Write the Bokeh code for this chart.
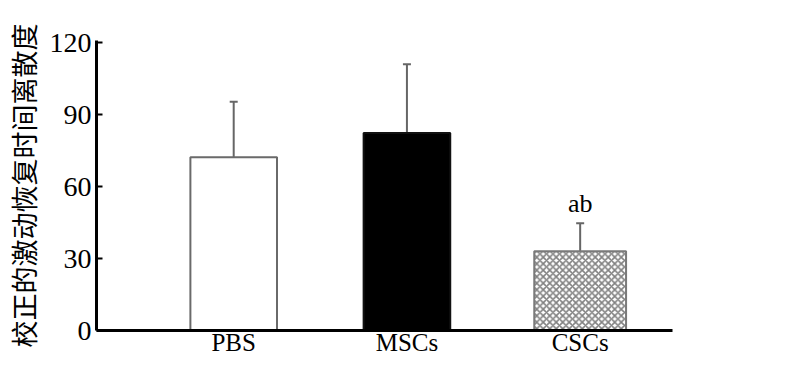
from bokeh.plotting import figure
from bokeh.models import Range1d, FixedTicker, ColumnDataSource, Whisker, TeeHead, LabelSet
from bokeh.embed import file_html
from bokeh.resources import INLINE

categories = ["PBS", "MSCs", "CSCs"]
means = [72.3, 82.4, 33.1]
sds = [23.1, 28.7, 11.7]
sig_labels = ["", "", "ab"]
y_ticks = [0, 30, 60, 90, 120]

xs = [i + 1 for i in range(len(categories))]
src = ColumnDataSource(dict(
    x=xs, top=means,
    upper=[m + s for m, s in zip(means, sds)],
    lab=sig_labels,
))

p = figure(width=784, height=358, output_backend="svg", toolbar_location=None,
           x_range=Range1d(0.208, 3.533), y_range=Range1d(0, 121),
           min_border_left=88, min_border_right=112, min_border_top=40, min_border_bottom=10)
p.outline_line_color = None
p.grid.visible = False
p.background_fill_color = "white"

# bars
p.vbar(x=[xs[0]], top=[means[0]], width=0.5, fill_color="white", line_color="#6a6a6a", line_width=2)
p.vbar(x=[xs[1]], top=[means[1]], width=0.5, fill_color="black", line_color="#111111", line_width=2)
p.vbar(x=[xs[2]], top=[means[2]], width=0.53, fill_color="white", line_color="#7a7a7a", line_width=2,
       hatch_pattern="diagonal_cross", hatch_color="#808080", hatch_scale=6.5, hatch_weight=1.6)

w = Whisker(source=src, base="x", lower="top", upper="upper", line_color="#666666", line_width=2,
            upper_head=TeeHead(size=8, line_color="#666666", line_width=2), lower_head=None)
p.add_layout(w)

lbl = LabelSet(x="x", y="upper", text="lab", source=src, y_offset=5, text_align="center",
               text_baseline="bottom", text_font="Liberation Serif", text_font_size="26px",
               text_color="black")
p.add_layout(lbl)

# axes
p.xaxis.ticker = FixedTicker(ticks=xs)
p.xaxis.major_label_overrides = {x: c for x, c in zip(xs, categories)}
p.xaxis.major_tick_line_color = None
p.xaxis.major_tick_in = 0
p.xaxis.major_tick_out = 0
p.xaxis.minor_tick_line_color = None
p.xaxis.minor_tick_in = 0
p.xaxis.minor_tick_out = 0
p.xaxis.axis_line_width = 3
p.xaxis.axis_line_color = "black"
p.xaxis.major_label_text_font = "Liberation Serif"
p.xaxis.major_label_text_font_size = "25px"
p.xaxis.major_label_text_color = "black"
p.xaxis.major_label_standoff = -2

p.yaxis.ticker = FixedTicker(ticks=y_ticks)
p.yaxis.minor_tick_line_color = None
p.yaxis.minor_tick_out = 0
p.yaxis.major_tick_in = 6
p.yaxis.major_tick_out = 0
p.yaxis.major_tick_line_width = 2
p.yaxis.axis_line_width = 3
p.yaxis.axis_line_color = "black"
p.yaxis.major_label_text_font = "Liberation Serif"
p.yaxis.major_label_text_font_size = "28px"
p.yaxis.major_label_text_color = "black"
p.yaxis.major_label_standoff = 5
p.yaxis.axis_label = "校正的激动恢复时间离散度"
p.yaxis.axis_label_text_font = "Noto Sans CJK SC"
p.yaxis.axis_label_text_font_style = "normal"
p.yaxis.axis_label_text_font_size = "27px"
p.yaxis.axis_label_text_color = "black"
p.yaxis.axis_label_standoff = 4

open("out.html", "w").write(file_html(p, INLINE))
